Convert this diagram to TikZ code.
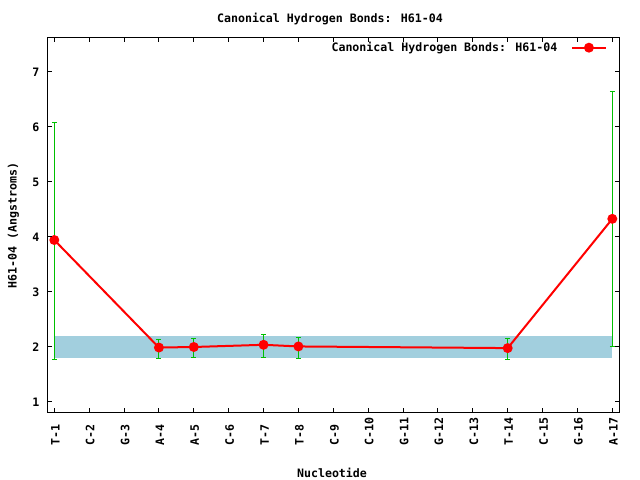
\documentclass[tikz,border=0pt]{standalone}
\usepackage{fontspec}
\setmainfont{DejaVu Sans Mono}
\definecolor{plotred}{RGB}{255,0,0}
\definecolor{bargreen}{RGB}{0,192,0}
\definecolor{bandblue}{RGB}{162,207,222}
\begin{document}
\begin{tikzpicture}[x=34.875pt, y=55pt,
        every node/.style={font=\fontsize{11.6}{13}\selectfont\bfseries, inner sep=0pt},
        errbar/.style={bargreen, line width=1pt},
        dataline/.style={plotred, line width=2pt, line join=round},
        datapt/.style={circle, fill=plotred, minimum size=10pt},
        frameline/.style={black, line width=1pt}]
  \useasboundingbox (-0.557,-0.418) rectangle (17.794,8.309);
  % reference band
  \fill[bandblue] (1,1.8) rectangle (17,2.2);
  % error bars
  \foreach \i/\lo/\hi in {1/1.776/6.08, 4/1.79/2.13, 5/1.81/2.15, 7/1.81/2.23,
                          8/1.79/2.17, 14/1.78/2.15, 17/2.0/6.64} {
    \draw[errbar] (\i,\lo) -- (\i,\hi);
    \draw[errbar] (\i,\lo) ++(-2.5pt,0) -- ++(5pt,0);
    \draw[errbar] (\i,\hi) ++(-2.5pt,0) -- ++(5pt,0);
  }
  % data points
  \foreach \i/\v in {1/3.945, 4/1.99, 5/2.0, 7/2.04, 8/2.01, 14/1.98, 17/4.33}
    \coordinate (c\i) at (\i,\v);
  \draw[dataline] (c1) -- (c4) -- (c5) -- (c7) -- (c8) -- (c14) -- (c17);
  \foreach \i in {1,4,5,7,8,14,17}
    \node[datapt] (p\i) at (c\i) {};
  % frame and ticks
  \draw[frameline] (0.8,0.818) rectangle (17.2,7.618);
  \foreach \v in {1,...,7} {
    \draw[frameline] (0.8,\v) -- ++(4.5pt,0);
    \draw[frameline] (17.2,\v) -- ++(-4.5pt,0);
    \node[anchor=east] (y\v) at (0.576,\v) {\v};
  }
  \foreach \n [count=\i] in {T-1,C-2,G-3,A-4,A-5,C-6,T-7,T-8,C-9,C-10,
                             G-11,G-12,C-13,T-14,C-15,G-16,A-17} {
    \draw[frameline] (\i,0.818) -- ++(0,4.5pt);
    \draw[frameline] (\i,7.618) -- ++(0,-4.5pt);
    \node[rotate=90, anchor=west] (x\i) at (\i+0.03,0.205) {\n};
  }
  % labels
  \node (title) at (8.905,7.964) {Canonical Hydrogen Bonds: H61-04};
  \node[rotate=90] (ylabel) at (-0.17,4.21) {H61-04 (Angstroms)};
  \node (xlabel) at (8.963,-0.282) {Nucleotide};
  % key
  \node[anchor=east] (keytext) at (15.43,7.436) {Canonical Hydrogen Bonds: H61-04};
  \coordinate (keyA) at (15.853,7.442);
  \coordinate (keyB) at (16.81,7.442);
  \draw[dataline] (keyA) -- (keyB);
  \node[datapt] (keypt) at (16.33,7.442) {};
\end{tikzpicture}
\end{document}
